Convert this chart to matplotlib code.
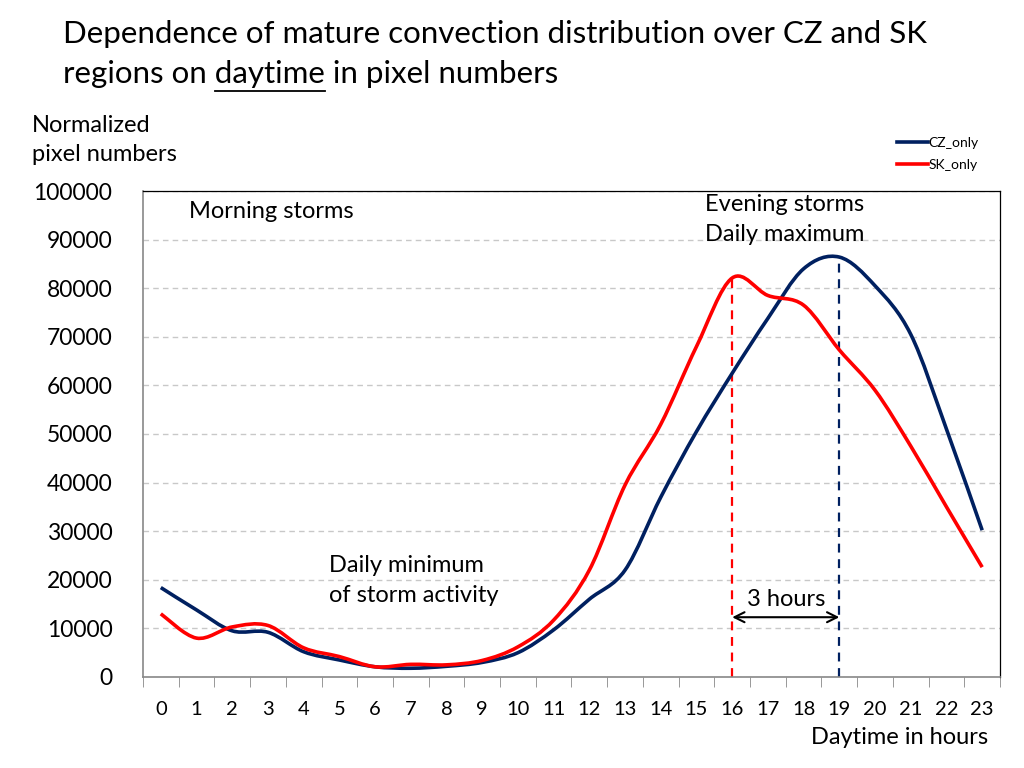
import matplotlib
matplotlib.use("Agg")
import matplotlib.pyplot as plt
from matplotlib.path import Path
from matplotlib.patches import PathPatch
from matplotlib.lines import Line2D

plt.rcParams['font.family'] = ['Lato', 'DejaVu Sans']

# Hours of the day (category axis)
hours = list(range(24))
hourLabels = [str(h) for h in hours]

# Normalized pixel numbers
czOnly = [18400, 13800, 9500, 9200, 5200, 3500, 2100, 1800, 2200, 3000,
          5000, 9700, 16000, 22000, 37000, 50500, 62500, 73800, 84000, 86400,
          80500, 70500, 51000, 30200]
skOnly = [13000, 8000, 10300, 10600, 6000, 4200, 2100, 2600, 2500, 3400,
          6200, 11700, 22000, 39500, 52000, 68000, 82100, 78500, 76500, 67300,
          59000, 47500, 35000, 22600]

czColor = "#002060"
skColor = "#FF0000"

# Excel-style smoothed line built as a bezier path from the data points
def smoothPath(xs, ys):
    n = len(xs)
    verts = [(xs[0], ys[0])]
    codes = [Path.MOVETO]
    for i in range(n - 1):
        a = i - 1 if i > 0 else i
        d = i + 2 if i + 2 < n else i + 1
        c1 = (xs[i] + (xs[i + 1] - xs[a]) / 6, ys[i] + (ys[i + 1] - ys[a]) / 6)
        c2 = (xs[i + 1] - (xs[d] - xs[i]) / 6, ys[i + 1] - (ys[d] - ys[i]) / 6)
        verts += [c1, c2, (xs[i + 1], ys[i + 1])]
        codes += [Path.CURVE4] * 3
    return Path(verts, codes)

fig = plt.figure(figsize=(10.24, 7.68), dpi=100)
ax = fig.add_axes([0.1396, 0.1185, 0.837, 0.6328])

ax.add_patch(PathPatch(smoothPath(hours, czOnly), fill=False, edgecolor=czColor, lw=2.6, zorder=3))
ax.add_patch(PathPatch(smoothPath(hours, skOnly), fill=False, edgecolor=skColor, lw=2.6, zorder=3))

# Peak markers and the 3 hour shift
skPeak = skOnly.index(max(skOnly))
czPeak = czOnly.index(max(czOnly))
ax.plot([skPeak, skPeak], [0, max(skOnly)], color=skColor, lw=1.6, ls=(0, (4, 3)), zorder=2)
ax.plot([czPeak, czPeak], [0, max(czOnly)], color=czColor, lw=1.6, ls=(0, (4, 3)), zorder=2)
ax.annotate("", xy=(skPeak, 12300), xytext=(czPeak, 12300),
            arrowprops=dict(arrowstyle="<->", color="black", lw=1.5, mutation_scale=18,
                            shrinkA=0, shrinkB=0))
ax.text((skPeak + czPeak) / 2, 16000, "3 hours", ha="center", va="center", fontsize=17)

ax.text(0.8, 95700, "Morning storms", ha="left", va="center", fontsize=17)
ax.text(15.25, 97300, "Evening storms", ha="left", va="center", fontsize=17)
ax.text(15.25, 91000, "Daily maximum", ha="left", va="center", fontsize=17)
ax.text(4.7, 23000, "Daily minimum", ha="left", va="center", fontsize=17)
ax.text(4.7, 16700, "of storm activity", ha="left", va="center", fontsize=17)

ax.set_xlim(-0.5, 23.5)
ax.set_ylim(0, 100000)
ax.set_yticks(range(0, 100001, 10000))
ax.set_yticklabels([str(v) for v in range(0, 100001, 10000)], fontsize=16.5)
ax.tick_params(axis="y", length=0, pad=22)

ax.set_xticks(hours)
ax.set_xticklabels(hourLabels, fontsize=14.5)
ax.set_xticks([h - 0.5 for h in hours] + [23.5], minor=True)
ax.tick_params(axis="x", which="major", length=0, pad=17)
ax.tick_params(axis="x", which="minor", length=7, color="#888888", direction="out")

ax.grid(axis="y", color="#C8C8C8", ls=(0, (4, 3)), lw=1)
ax.set_axisbelow(True)
for side in ["top", "right"]:
    ax.spines[side].set_color("black")
    ax.spines[side].set_linewidth(0.9)
for side in ["left", "bottom"]:
    ax.spines[side].set_color("#888888")
    ax.spines[side].set_linewidth(1.2)

handles = [Line2D([], [], color=czColor, lw=2.6), Line2D([], [], color=skColor, lw=2.6)]
fig.legend(handles, ["CZ_only", "SK_only"], loc="upper right", bbox_to_anchor=(0.968, 0.838),
           frameon=False, fontsize=10, handlelength=2.2, handletextpad=0.05, labelspacing=0.75)

fig.text(0.0308, 0.818, "Normalized\npixel numbers", ha="left", va="center", fontsize=17,
         linespacing=1.45)
fig.text(0.965, 0.040, "Daytime in hours", ha="right", va="center", fontsize=17)

# Title with underlined "daytime"
titleSize = 22.5
titleX, titleY1, titleY2 = 0.0615, 0.956, 0.903
fig.text(titleX, titleY1, "Dependence of mature convection distribution over CZ and SK",
         ha="left", va="center", fontsize=titleSize)
fig.text(titleX, titleY2, "regions on daytime in pixel numbers", ha="left", va="center", fontsize=titleSize)
fig.canvas.draw()
r = fig.canvas.get_renderer()
probeA = fig.text(titleX, titleY2, "regions on daytime", fontsize=titleSize, va="center")
probeB = fig.text(titleX, titleY2, "daytime", fontsize=titleSize, va="center")
wA = probeA.get_window_extent(r).width
wB = probeB.get_window_extent(r).width
probeA.remove()
probeB.remove()
x0 = titleX * 1024
ulY = titleY2 * 768 - 17
fig.add_artist(Line2D([(x0 + wA - wB) / 1024, (x0 + wA) / 1024], [ulY / 768, ulY / 768],
                      color="black", lw=1.3))

fig.savefig("out.png", dpi=100)
